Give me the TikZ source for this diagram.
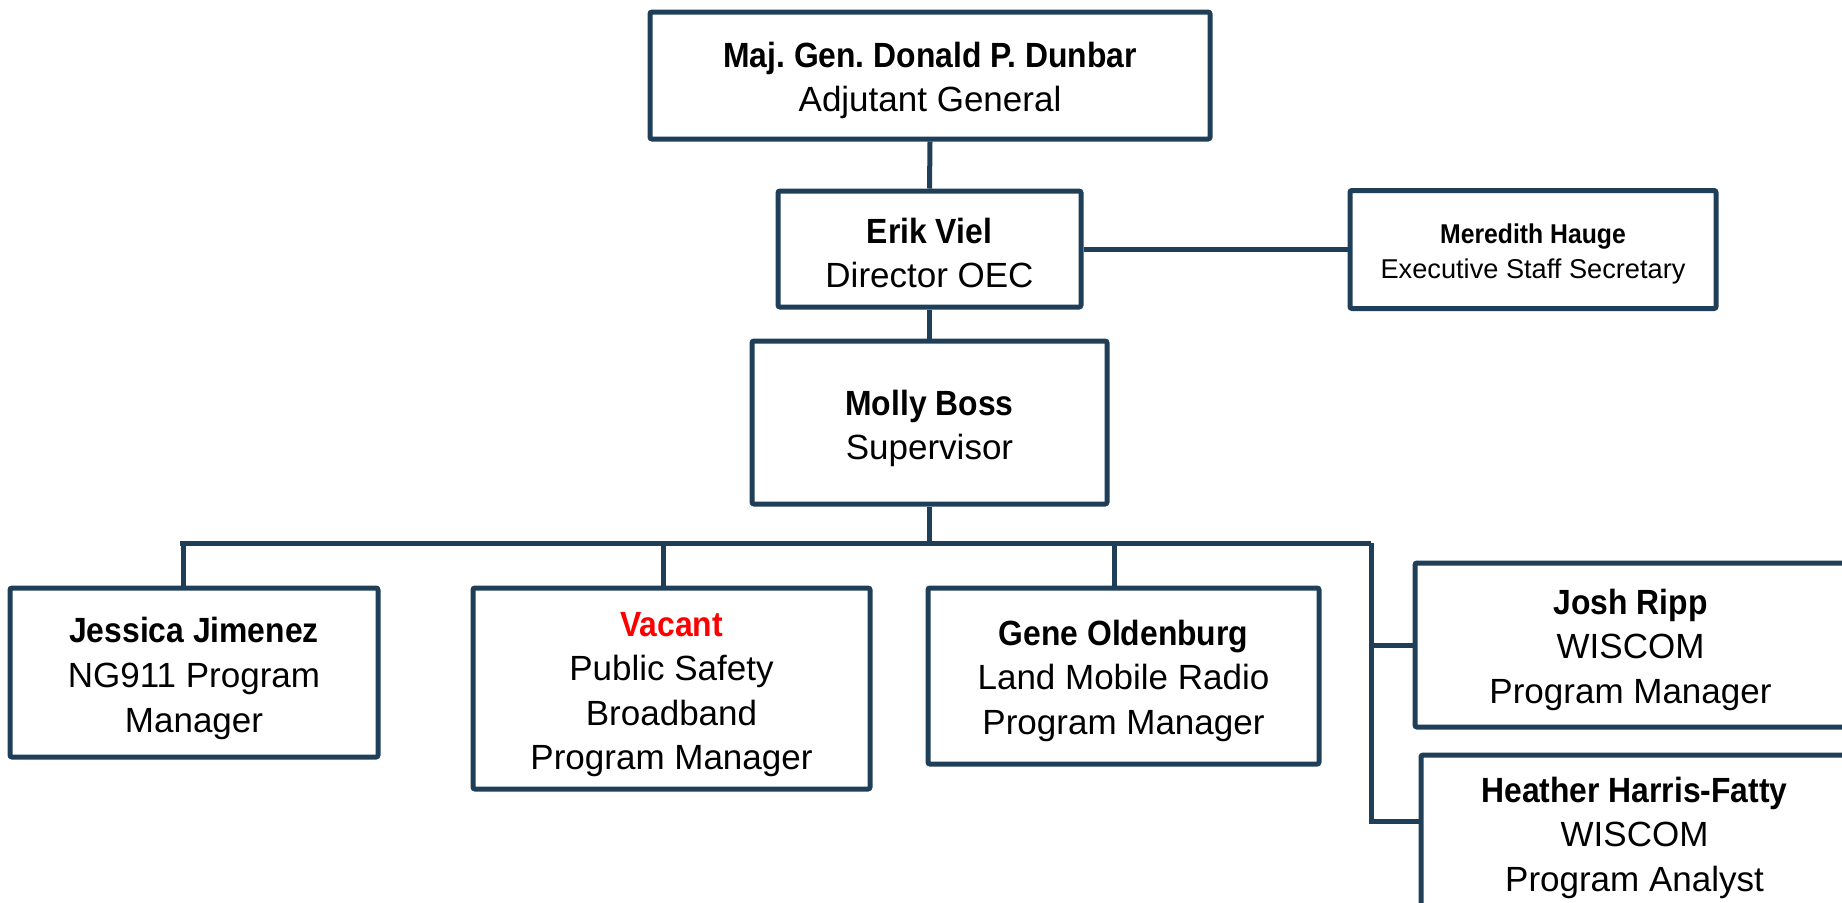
\documentclass[tikz,border=0pt]{standalone}
\usepackage{fontspec}
\setmainfont{Liberation Sans}[BoldFeatures={FakeStretch=0.91}]
\definecolor{navy}{RGB}{31,63,89}
\definecolor{vacred}{RGB}{255,0,0}
\begin{document}
\frenchspacing
\begin{tikzpicture}[x=0.5pt,y=-0.5pt,
  box/.style={draw=navy, line width=2.5pt, rounded corners=1pt, fill=white, inner sep=0pt},
  txt/.style={align=center, inner sep=0pt, font=\fontsize{17.5}{22.3}\selectfont},
  smalltxt/.style={align=center, inner sep=0pt, font=\fontsize{13.6}{17.2}\selectfont},
  sz/.style 2 args={minimum width=#1*0.5pt, minimum height=#2*0.5pt},
  link/.style={draw=navy, line width=2.5pt}]
\useasboundingbox (0,0) rectangle (1842,902);
\clip (0,0) rectangle (1842,902);

\node[box, sz={560}{127}] (top) at (930,75.5) {};
\node[box, sz={303}{116}] (erik) at (929.5,249) {};
\node[box, sz={366}{118}] (mer) at (1533,249.5) {};
\node[box, sz={355}{163}] (molly) at (929.5,422.5) {};
\node[box, sz={368}{169}] (jess) at (194,672.5) {};
\node[box, sz={397}{201}] (vac) at (671.5,688.5) {};
\node[box, sz={391}{176}] (gene) at (1123.5,676) {};
\node[box, sz={431}{164}] (josh) at (1630.5,645) {};
\node[box, sz={427}{158}] (heat) at (1634.5,834) {};

\node[txt] (topT) at ([yshift=-2.5pt]top.center) {\textbf{Maj. Gen. Donald P. Dunbar}\\Adjutant General};
\node[txt] (erikT) at ([yshift=-2pt]erik.center) {\textbf{Erik Viel}\\Director OEC};
\node[smalltxt] (merT) at ([yshift=-2.2pt]mer.center) {\textbf{Meredith Hauge}\\Executive Staff Secretary};
\node[txt] (mollyT) at ([yshift=-3pt]molly.center) {\textbf{Molly Boss}\\Supervisor};
\node[txt] (jessT) at ([yshift=-3pt]jess.center) {\textbf{Jessica Jimenez}\\NG911 Program\\Manager};
\node[txt] (vacT) at ([yshift=-3pt]vac.center) {\textcolor{vacred}{\textbf{Vacant}}\\Public Safety\\Broadband\\Program Manager};
\node[txt] (geneT) at ([yshift=-2.3pt]gene.center) {\textbf{Gene Oldenburg}\\Land Mobile Radio\\Program Manager};
\node[txt] (joshT) at ([yshift=-2.3pt]josh.center) {\textbf{Josh Ripp}\\WISCOM\\Program Manager};
\node[txt] (heatT) at ([yshift=-1.8pt]heat.center) {\textbf{Heather Harris-Fatty}\\WISCOM\\Program Analyst};

\draw[link] (top.south) -- (erik.north);
\draw[link] (erik.east) -- (erik.east -| mer.west);
\draw[link] (erik.south) -- (molly.north);

\coordinate (busL) at (180,543);
\coordinate (busR) at (1371,543);
\coordinate (dj) at (183,543);
\coordinate (dv) at (663,543);
\coordinate (dg) at (1114,543);
\coordinate (vj) at (1371,645);
\coordinate (vh) at (1371,821);

\draw[link] (molly.south) -- (molly.south |- busL);
\draw[link] (busL) -- (busR);
\draw[link] (dj) -- (dj |- jess.north);
\draw[link] (dv) -- (dv |- vac.north);
\draw[link] (dg) -- (dg |- gene.north);
\draw[link] (busR) -- (vh) -- (vh -| heat.west);
\draw[link] (vj) -- (vj -| josh.west);
\end{tikzpicture}
\end{document}
